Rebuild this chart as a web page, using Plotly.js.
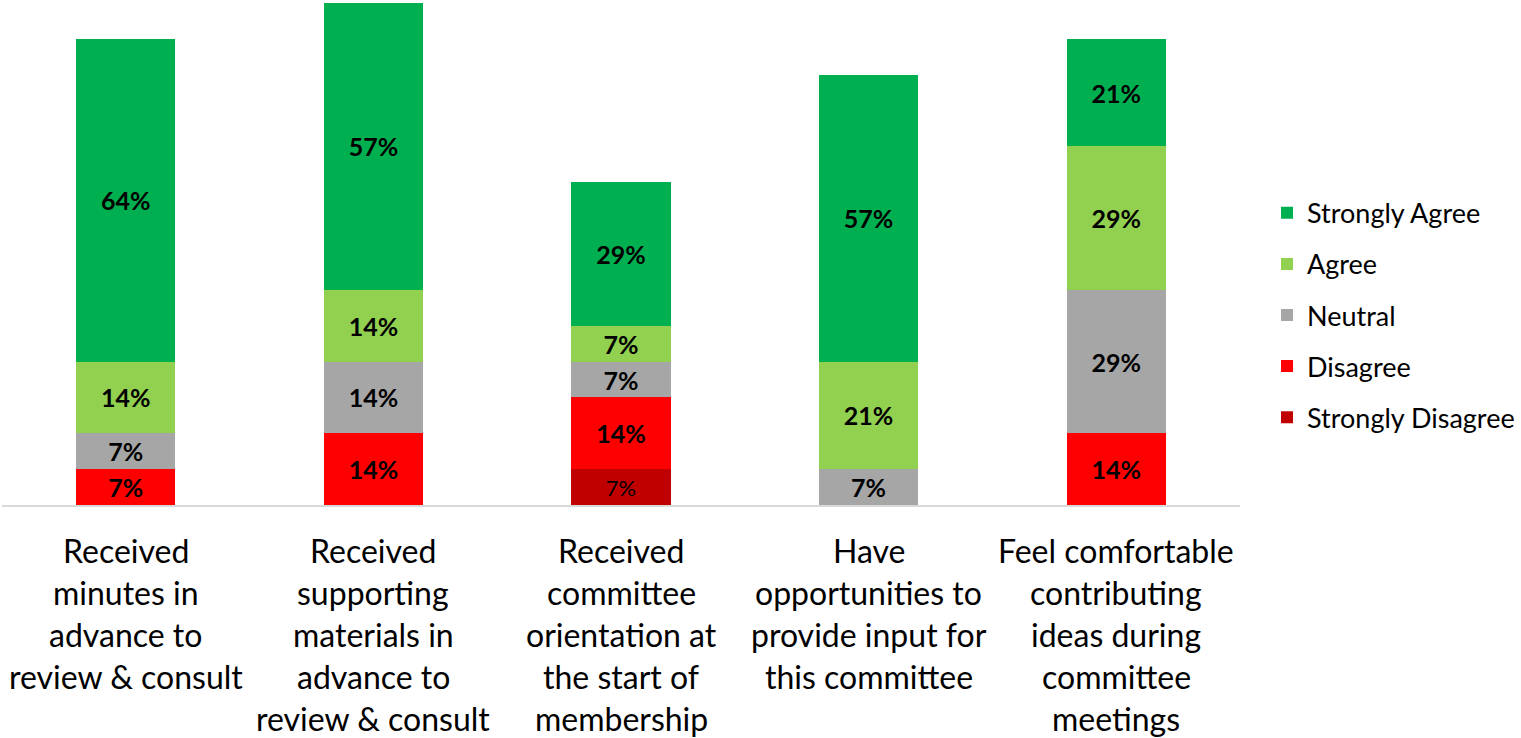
<!DOCTYPE html>
<html>
<head>
<meta charset="utf-8">
<script src="https://cdn.plot.ly/plotly-3.0.1.min.js"></script>
<style>
html,body{margin:0;padding:0;background:#fff;}
#chart{width:1521px;height:738px;}
</style>
</head>
<body>
<div id="chart"></div>
<script>
// Categories (tick label lines)
const categories = ['Q1', 'Q2', 'Q3', 'Q4', 'Q5'];
const tickLabels = [
  ['Received', 'minutes in', 'advance to', 'review & consult'],
  ['Received', 'supporting', 'materials in', 'advance to', 'review & consult'],
  ['Received', 'committee', 'orientation at', 'the start of', 'membership'],
  ['Have', 'opportunities to', 'provide input for', 'this committee'],
  ['Feel comfortable', 'contributing', 'ideas during', 'committee', 'meetings']
];

// Series values (percent of respondents)
const stronglyDisagree = [null, null, 7.14, null, null];
const disagree         = [7.14, 14.29, 14.29, null, 14.29];
const neutral          = [7.14, 14.29, 7.14, 7.14, 28.57];
const agree            = [14.29, 14.29, 7.14, 21.43, 28.57];
const stronglyAgree    = [64.29, 57.14, 28.57, 57.14, 21.43];

const seriesNames  = ['Strongly Disagree', 'Disagree', 'Neutral', 'Agree', 'Strongly Agree'];
const seriesValues = [stronglyDisagree, disagree, neutral, agree, stronglyAgree];
const seriesColors = ['#C00000', '#FF0000', '#A6A6A6', '#92D050', '#00B050'];

const FONT = 'Lato, Carlito, Calibri, "Open Sans", sans-serif';

const traces = seriesNames.map((name, i) => {
  const bold = name !== 'Strongly Disagree';
  return {
    type: 'bar',
    name: name,
    legendgroup: name,
    legendrank: seriesNames.length - i,
    x: categories,
    y: seriesValues[i],
    marker: {color: seriesColors[i], line: {width: 0}},
    texttemplate: bold ? '<b>%{y:.0f}%</b>' : '%{y:.0f}%',
    textposition: 'inside',
    insidetextanchor: 'middle',
    textangle: 0,
    constraintext: 'none',
    insidetextfont: {family: FONT, size: bold ? 25 : 22, color: '#000'},
    hoverinfo: 'skip'
  };
});

// Category labels drawn line by line under each bar
const annotations = [];
tickLabels.forEach((lines, ci) => {
  lines.forEach((line, li) => {
    annotations.push({
      xref: 'x', yref: 'paper',
      x: categories[ci], y: 0,
      xanchor: 'center', yanchor: 'middle',
      yshift: -45 - li * 42.2,
      text: line,
      showarrow: false,
      font: {family: FONT, size: 32, color: '#000'}
    });
  });
});

const layout = {
  width: 1521, height: 738,
  margin: {l: 2, r: 280, t: 3, b: 233},
  paper_bgcolor: '#fff', plot_bgcolor: '#fff',
  barmode: 'stack',
  bargap: 0.6,
  font: {family: FONT, color: '#000'},
  xaxis: {
    type: 'category',
    showticklabels: false,
    ticks: '',
    showgrid: false,
    zeroline: false,
    showline: true,
    linecolor: '#D9D9D9',
    linewidth: 2,
    fixedrange: true
  },
  yaxis: {
    range: [0, 100],
    visible: false,
    showgrid: false,
    zeroline: false,
    fixedrange: true
  },
  showlegend: true,
  legend: {
    x: 1.021, xanchor: 'left',
    y: 0.378, yanchor: 'middle',
    traceorder: 'grouped',
    tracegroupgap: 13,
    font: {family: FONT, size: 27, color: '#000'},
    itemwidth: 30,
    bgcolor: 'rgba(0,0,0,0)'
  },
  annotations: annotations
};

Plotly.newPlot('chart', traces, layout, {displayModeBar: false, staticPlot: true});
</script>
</body>
</html>
